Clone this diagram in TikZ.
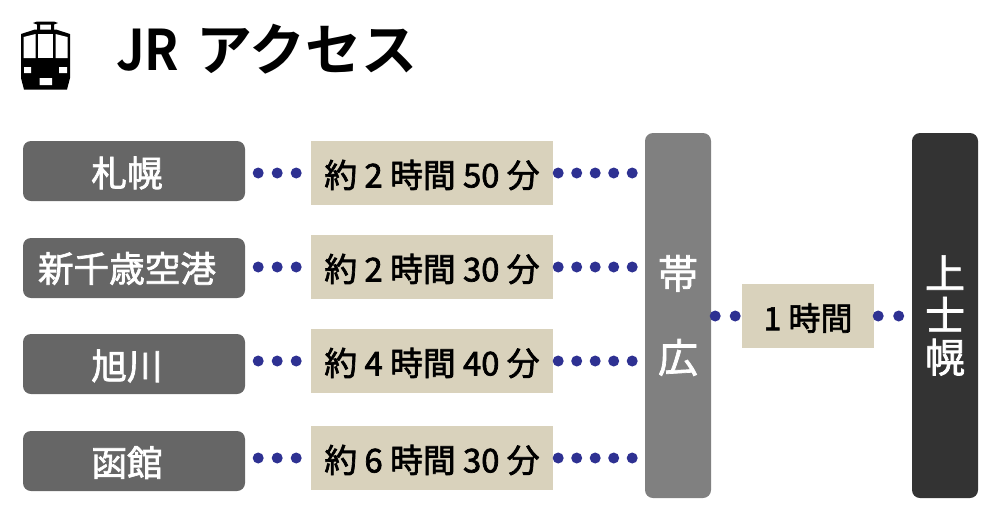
\documentclass[tikz,border=0pt]{standalone}
\usepackage{fontspec}
\setmainfont{Noto Sans CJK JP}[BoldFont={Noto Sans CJK JP Bold}]
\definecolor{navy}{HTML}{2E3192}
\definecolor{tan}{HTML}{D9D2BC}
\definecolor{stn}{HTML}{666666}
\definecolor{hub}{HTML}{808080}
\definecolor{dst}{HTML}{333333}
\newcommand{\wgt}[1]{\special{pdf:code 2 Tr 0.7 w}#1\special{pdf:code 0 Tr}}
\newcommand{\dn}[2]{\raisebox{-#1pt}[\height][\depth]{\wgt{#2}}}
\tikzset{
 x=1pt,y=-1pt,
 city/.style={fill=stn,rounded corners=8pt,minimum width=222pt,minimum height=60pt,inner sep=0pt,text=white,font=\fontsize{35.6}{40}\selectfont},
 dur/.style={fill=tan,minimum width=242pt,minimum height=64pt,inner sep=0pt,text=black,font=\fontsize{32.8}{36}\selectfont},
 hubbox/.style={rounded corners=8pt,minimum width=66pt,minimum height=365pt,inner sep=0pt,text=white,align=center},
 dots/.style={draw=navy,line width=11pt,line cap=round,dash pattern=on 0pt off 19pt},
}
\begin{document}
\begin{tikzpicture}
\useasboundingbox (0,0) rectangle (1000,520);
% train icon
\fill[black] (21,34) -- (35,29.5) -- (56,29.5) -- (70,34) -- (70,78) -- (67,89.5) -- (24,89.5) -- (21,78) -- cycle;
\fill[black] (33,23) -- (37,21.5) -- (54,21.5) -- (58,23) -- (54,24.5) -- (37,24.5) -- cycle;
\fill[black] (37,24) rectangle (40,30) (51,24) rectangle (54,30);
\fill[white] (23.5,37) -- (35.5,34) -- (35.5,58) -- (23.5,58) -- cycle;
\fill[white] (38,34) rectangle (53,58);
\fill[white] (55.5,34) -- (67.5,37) -- (67.5,58) -- (55.5,58) -- cycle;
\fill[white] (24,67) rectangle (31,73) (59,67) rectangle (67,73) (39.5,78) rectangle (52,85);
\node[anchor=west,inner sep=0pt,font=\bfseries\fontsize{56}{60}\selectfont] (title) at (116,49) {\scalebox{0.9}[1]{JR}\hspace{17pt}アクセス};
% nodes
\node[city] (a1) at (134,171) {\dn{2}{札幌}\hspace*{14pt}};
\node[city] (a2) at (134,268) {\dn{0.5}{新千歳空港}\hspace*{14pt}};
\node[city] (a3) at (134,364) {\dn{2}{旭川}\hspace*{14pt}};
\node[city] (a4) at (134,461) {\dn{1.5}{函館}\hspace*{14pt}};
\node[dur] (t1) at (432,173) {\dn{2}{約 2 時間 50 分}};
\node[dur] (t2) at (432,267) {\dn{2}{約 2 時間 30 分}};
\node[dur] (t3) at (432,361) {\dn{2}{約 4 時間 40 分}};
\node[dur] (t4) at (432,458) {\dn{2}{約 6 時間 30 分}};
\node[hubbox,fill=hub,font=\fontsize{40}{84}\selectfont] (o) at (678,315.5) {\wgt{帯}\\\wgt{広}};
\node[hubbox,fill=dst,font=\fontsize{40}{42}\selectfont] (k) at (945,315.5) {\wgt{上}\\\wgt{士}\\\wgt{幌}};
\node[fill=tan,minimum width=132pt,minimum height=64pt,inner sep=0pt,font=\fontsize{32}{36}\selectfont] (h) at (808,316) {\dn{2}{1 時間}};
% connectors
\foreach \i in {1,2,3,4}{
 \draw[dots,shorten <=13pt,shorten >=8pt] (a\i.east |- t\i.west) -- (t\i.west);
 \draw[dots,shorten <=5pt,shorten >=6pt,dash pattern=on 0pt off 18.5pt] (t\i.east) -- (t\i.east -| o.west);
}
\draw[dots,shorten <=4pt,dash pattern=on 0pt off 20pt,shorten >=3pt] (o.east |- h.west) -- (h.west);
\draw[dots,shorten <=4pt,dash pattern=on 0pt off 20.5pt,shorten >=8pt] (h.east) -- (h.east -| k.west);
\end{tikzpicture}
\end{document}
